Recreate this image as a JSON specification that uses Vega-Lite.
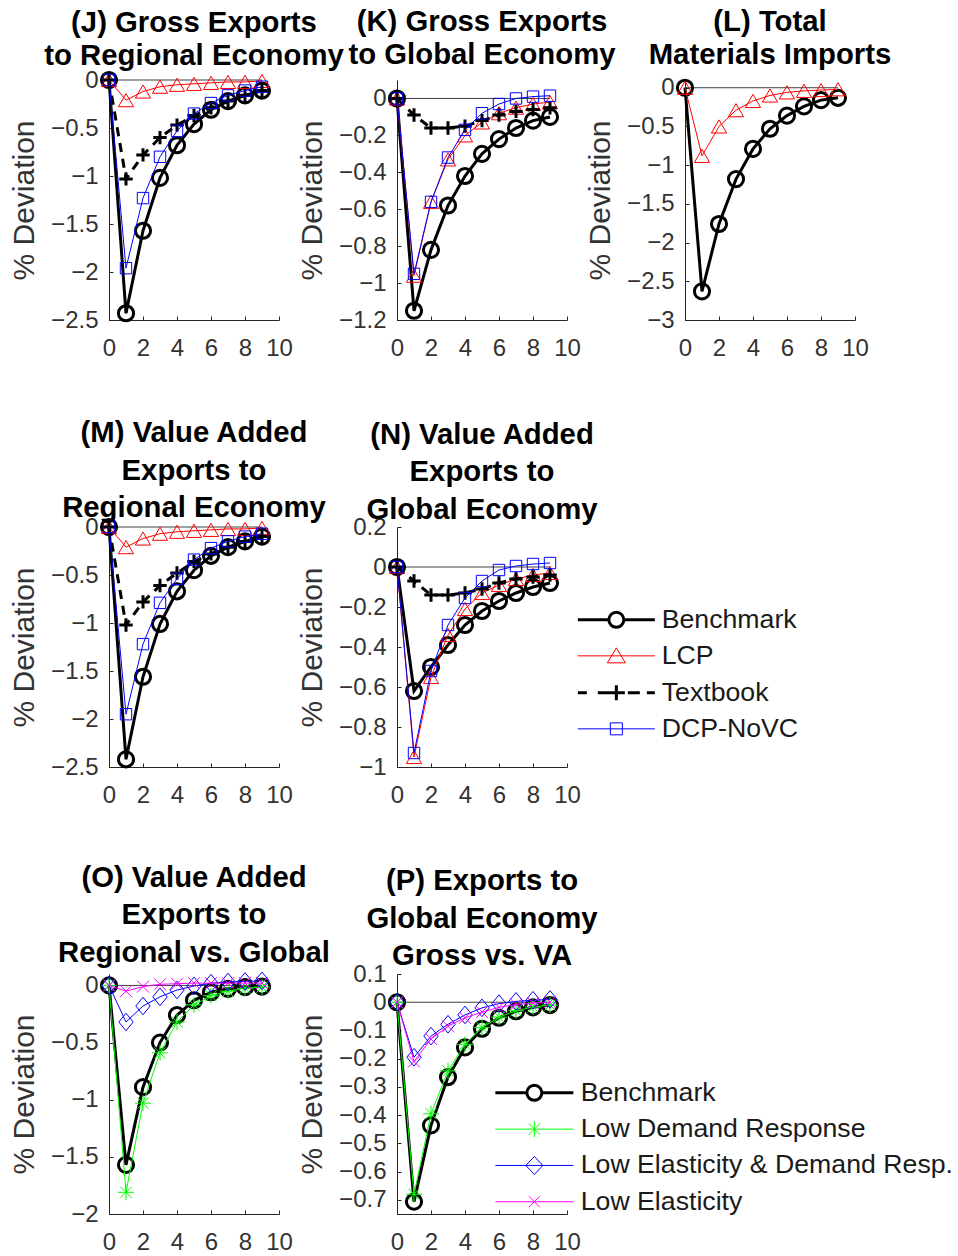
{
"$schema":"https://vega.github.io/schema/vega-lite/v6.json",
"padding":{"left":9,"top":7,"right":0,"bottom":0},
"datasets":{"d":[
{"panel":"J","series":"Benchmark","t":0,"value":0},{"panel":"J","series":"Benchmark","t":1,"value":-2.43},{"panel":"J","series":"Benchmark","t":2,"value":-1.57},{"panel":"J","series":"Benchmark","t":3,"value":-1.02},{"panel":"J","series":"Benchmark","t":4,"value":-0.68},{"panel":"J","series":"Benchmark","t":5,"value":-0.46},{"panel":"J","series":"Benchmark","t":6,"value":-0.31},{"panel":"J","series":"Benchmark","t":7,"value":-0.22},{"panel":"J","series":"Benchmark","t":8,"value":-0.16},{"panel":"J","series":"Benchmark","t":9,"value":-0.11},
{"panel":"J","series":"LCP","t":0,"value":0},{"panel":"J","series":"LCP","t":1,"value":-0.21},{"panel":"J","series":"LCP","t":2,"value":-0.12},{"panel":"J","series":"LCP","t":3,"value":-0.07},{"panel":"J","series":"LCP","t":4,"value":-0.05},{"panel":"J","series":"LCP","t":5,"value":-0.04},{"panel":"J","series":"LCP","t":6,"value":-0.03},{"panel":"J","series":"LCP","t":7,"value":-0.02},{"panel":"J","series":"LCP","t":8,"value":-0.02},{"panel":"J","series":"LCP","t":9,"value":-0.01},
{"panel":"J","series":"Textbook","t":0,"value":0},{"panel":"J","series":"Textbook","t":1,"value":-1.03},{"panel":"J","series":"Textbook","t":2,"value":-0.78},{"panel":"J","series":"Textbook","t":3,"value":-0.6},{"panel":"J","series":"Textbook","t":4,"value":-0.47},{"panel":"J","series":"Textbook","t":5,"value":-0.37},{"panel":"J","series":"Textbook","t":6,"value":-0.29},{"panel":"J","series":"Textbook","t":7,"value":-0.22},{"panel":"J","series":"Textbook","t":8,"value":-0.16},{"panel":"J","series":"Textbook","t":9,"value":-0.11},
{"panel":"J","series":"DCP-NoVC","t":0,"value":0},{"panel":"J","series":"DCP-NoVC","t":1,"value":-1.96},{"panel":"J","series":"DCP-NoVC","t":2,"value":-1.23},{"panel":"J","series":"DCP-NoVC","t":3,"value":-0.8},{"panel":"J","series":"DCP-NoVC","t":4,"value":-0.53},{"panel":"J","series":"DCP-NoVC","t":5,"value":-0.35},{"panel":"J","series":"DCP-NoVC","t":6,"value":-0.24},{"panel":"J","series":"DCP-NoVC","t":7,"value":-0.16},{"panel":"J","series":"DCP-NoVC","t":8,"value":-0.11},{"panel":"J","series":"DCP-NoVC","t":9,"value":-0.07},
{"panel":"K","series":"Benchmark","t":0,"value":0},{"panel":"K","series":"Benchmark","t":1,"value":-1.15},{"panel":"K","series":"Benchmark","t":2,"value":-0.82},{"panel":"K","series":"Benchmark","t":3,"value":-0.58},{"panel":"K","series":"Benchmark","t":4,"value":-0.42},{"panel":"K","series":"Benchmark","t":5,"value":-0.3},{"panel":"K","series":"Benchmark","t":6,"value":-0.22},{"panel":"K","series":"Benchmark","t":7,"value":-0.16},{"panel":"K","series":"Benchmark","t":8,"value":-0.12},{"panel":"K","series":"Benchmark","t":9,"value":-0.1},
{"panel":"K","series":"LCP","t":0,"value":0},{"panel":"K","series":"LCP","t":1,"value":-0.96},{"panel":"K","series":"LCP","t":2,"value":-0.56},{"panel":"K","series":"LCP","t":3,"value":-0.33},{"panel":"K","series":"LCP","t":4,"value":-0.2},{"panel":"K","series":"LCP","t":5,"value":-0.13},{"panel":"K","series":"LCP","t":6,"value":-0.08},{"panel":"K","series":"LCP","t":7,"value":-0.05},{"panel":"K","series":"LCP","t":8,"value":-0.03},{"panel":"K","series":"LCP","t":9,"value":-0.02},
{"panel":"K","series":"Textbook","t":0,"value":0},{"panel":"K","series":"Textbook","t":1,"value":-0.09},{"panel":"K","series":"Textbook","t":2,"value":-0.16},{"panel":"K","series":"Textbook","t":3,"value":-0.16},{"panel":"K","series":"Textbook","t":4,"value":-0.15},{"panel":"K","series":"Textbook","t":5,"value":-0.12},{"panel":"K","series":"Textbook","t":6,"value":-0.09},{"panel":"K","series":"Textbook","t":7,"value":-0.07},{"panel":"K","series":"Textbook","t":8,"value":-0.06},{"panel":"K","series":"Textbook","t":9,"value":-0.05},
{"panel":"K","series":"DCP-NoVC","t":0,"value":0},{"panel":"K","series":"DCP-NoVC","t":1,"value":-0.95},{"panel":"K","series":"DCP-NoVC","t":2,"value":-0.56},{"panel":"K","series":"DCP-NoVC","t":3,"value":-0.32},{"panel":"K","series":"DCP-NoVC","t":4,"value":-0.17},{"panel":"K","series":"DCP-NoVC","t":5,"value":-0.08},{"panel":"K","series":"DCP-NoVC","t":6,"value":-0.03},{"panel":"K","series":"DCP-NoVC","t":7,"value":0},{"panel":"K","series":"DCP-NoVC","t":8,"value":0.01},{"panel":"K","series":"DCP-NoVC","t":9,"value":0.015},
{"panel":"L","series":"Benchmark","t":0,"value":0},{"panel":"L","series":"Benchmark","t":1,"value":-2.63},{"panel":"L","series":"Benchmark","t":2,"value":-1.76},{"panel":"L","series":"Benchmark","t":3,"value":-1.18},{"panel":"L","series":"Benchmark","t":4,"value":-0.79},{"panel":"L","series":"Benchmark","t":5,"value":-0.53},{"panel":"L","series":"Benchmark","t":6,"value":-0.36},{"panel":"L","series":"Benchmark","t":7,"value":-0.24},{"panel":"L","series":"Benchmark","t":8,"value":-0.16},{"panel":"L","series":"Benchmark","t":9,"value":-0.13},
{"panel":"L","series":"LCP","t":0,"value":0},{"panel":"L","series":"LCP","t":1,"value":-0.88},{"panel":"L","series":"LCP","t":2,"value":-0.5},{"panel":"L","series":"LCP","t":3,"value":-0.29},{"panel":"L","series":"LCP","t":4,"value":-0.17},{"panel":"L","series":"LCP","t":5,"value":-0.1},{"panel":"L","series":"LCP","t":6,"value":-0.06},{"panel":"L","series":"LCP","t":7,"value":-0.04},{"panel":"L","series":"LCP","t":8,"value":-0.03},{"panel":"L","series":"LCP","t":9,"value":-0.02},
{"panel":"M","series":"Benchmark","t":0,"value":0},{"panel":"M","series":"Benchmark","t":1,"value":-2.42},{"panel":"M","series":"Benchmark","t":2,"value":-1.56},{"panel":"M","series":"Benchmark","t":3,"value":-1.01},{"panel":"M","series":"Benchmark","t":4,"value":-0.67},{"panel":"M","series":"Benchmark","t":5,"value":-0.45},{"panel":"M","series":"Benchmark","t":6,"value":-0.3},{"panel":"M","series":"Benchmark","t":7,"value":-0.21},{"panel":"M","series":"Benchmark","t":8,"value":-0.15},{"panel":"M","series":"Benchmark","t":9,"value":-0.1},
{"panel":"M","series":"LCP","t":0,"value":0},{"panel":"M","series":"LCP","t":1,"value":-0.21},{"panel":"M","series":"LCP","t":2,"value":-0.12},{"panel":"M","series":"LCP","t":3,"value":-0.07},{"panel":"M","series":"LCP","t":4,"value":-0.05},{"panel":"M","series":"LCP","t":5,"value":-0.04},{"panel":"M","series":"LCP","t":6,"value":-0.03},{"panel":"M","series":"LCP","t":7,"value":-0.02},{"panel":"M","series":"LCP","t":8,"value":-0.02},{"panel":"M","series":"LCP","t":9,"value":-0.01},
{"panel":"M","series":"Textbook","t":0,"value":0},{"panel":"M","series":"Textbook","t":1,"value":-1.02},{"panel":"M","series":"Textbook","t":2,"value":-0.78},{"panel":"M","series":"Textbook","t":3,"value":-0.61},{"panel":"M","series":"Textbook","t":4,"value":-0.48},{"panel":"M","series":"Textbook","t":5,"value":-0.36},{"panel":"M","series":"Textbook","t":6,"value":-0.28},{"panel":"M","series":"Textbook","t":7,"value":-0.21},{"panel":"M","series":"Textbook","t":8,"value":-0.15},{"panel":"M","series":"Textbook","t":9,"value":-0.1},
{"panel":"M","series":"DCP-NoVC","t":0,"value":0},{"panel":"M","series":"DCP-NoVC","t":1,"value":-1.95},{"panel":"M","series":"DCP-NoVC","t":2,"value":-1.22},{"panel":"M","series":"DCP-NoVC","t":3,"value":-0.79},{"panel":"M","series":"DCP-NoVC","t":4,"value":-0.54},{"panel":"M","series":"DCP-NoVC","t":5,"value":-0.34},{"panel":"M","series":"DCP-NoVC","t":6,"value":-0.22},{"panel":"M","series":"DCP-NoVC","t":7,"value":-0.15},{"panel":"M","series":"DCP-NoVC","t":8,"value":-0.1},{"panel":"M","series":"DCP-NoVC","t":9,"value":-0.07},
{"panel":"N","series":"Benchmark","t":0,"value":0},{"panel":"N","series":"Benchmark","t":1,"value":-0.62},{"panel":"N","series":"Benchmark","t":2,"value":-0.5},{"panel":"N","series":"Benchmark","t":3,"value":-0.39},{"panel":"N","series":"Benchmark","t":4,"value":-0.29},{"panel":"N","series":"Benchmark","t":5,"value":-0.22},{"panel":"N","series":"Benchmark","t":6,"value":-0.17},{"panel":"N","series":"Benchmark","t":7,"value":-0.13},{"panel":"N","series":"Benchmark","t":8,"value":-0.1},{"panel":"N","series":"Benchmark","t":9,"value":-0.08},
{"panel":"N","series":"LCP","t":0,"value":0},{"panel":"N","series":"LCP","t":1,"value":-0.95},{"panel":"N","series":"LCP","t":2,"value":-0.55},{"panel":"N","series":"LCP","t":3,"value":-0.34},{"panel":"N","series":"LCP","t":4,"value":-0.21},{"panel":"N","series":"LCP","t":5,"value":-0.13},{"panel":"N","series":"LCP","t":6,"value":-0.09},{"panel":"N","series":"LCP","t":7,"value":-0.06},{"panel":"N","series":"LCP","t":8,"value":-0.04},{"panel":"N","series":"LCP","t":9,"value":-0.03},
{"panel":"N","series":"Textbook","t":0,"value":0},{"panel":"N","series":"Textbook","t":1,"value":-0.07},{"panel":"N","series":"Textbook","t":2,"value":-0.14},{"panel":"N","series":"Textbook","t":3,"value":-0.14},{"panel":"N","series":"Textbook","t":4,"value":-0.13},{"panel":"N","series":"Textbook","t":5,"value":-0.11},{"panel":"N","series":"Textbook","t":6,"value":-0.08},{"panel":"N","series":"Textbook","t":7,"value":-0.06},{"panel":"N","series":"Textbook","t":8,"value":-0.05},{"panel":"N","series":"Textbook","t":9,"value":-0.04},
{"panel":"N","series":"DCP-NoVC","t":0,"value":0},{"panel":"N","series":"DCP-NoVC","t":1,"value":-0.93},{"panel":"N","series":"DCP-NoVC","t":2,"value":-0.52},{"panel":"N","series":"DCP-NoVC","t":3,"value":-0.29},{"panel":"N","series":"DCP-NoVC","t":4,"value":-0.155},{"panel":"N","series":"DCP-NoVC","t":5,"value":-0.07},{"panel":"N","series":"DCP-NoVC","t":6,"value":-0.015},{"panel":"N","series":"DCP-NoVC","t":7,"value":0.005},{"panel":"N","series":"DCP-NoVC","t":8,"value":0.015},{"panel":"N","series":"DCP-NoVC","t":9,"value":0.02},
{"panel":"O","series":"Benchmark","t":0,"value":0},{"panel":"O","series":"Benchmark","t":1,"value":-1.57},{"panel":"O","series":"Benchmark","t":2,"value":-0.89},{"panel":"O","series":"Benchmark","t":3,"value":-0.5},{"panel":"O","series":"Benchmark","t":4,"value":-0.26},{"panel":"O","series":"Benchmark","t":5,"value":-0.13},{"panel":"O","series":"Benchmark","t":6,"value":-0.06},{"panel":"O","series":"Benchmark","t":7,"value":-0.03},{"panel":"O","series":"Benchmark","t":8,"value":-0.015},{"panel":"O","series":"Benchmark","t":9,"value":-0.01},
{"panel":"O","series":"Low Demand Response","t":0,"value":0},{"panel":"O","series":"Low Demand Response","t":1,"value":-1.81},{"panel":"O","series":"Low Demand Response","t":2,"value":-1.03},{"panel":"O","series":"Low Demand Response","t":3,"value":-0.59},{"panel":"O","series":"Low Demand Response","t":4,"value":-0.32},{"panel":"O","series":"Low Demand Response","t":5,"value":-0.17},{"panel":"O","series":"Low Demand Response","t":6,"value":-0.09},{"panel":"O","series":"Low Demand Response","t":7,"value":-0.05},{"panel":"O","series":"Low Demand Response","t":8,"value":-0.025},{"panel":"O","series":"Low Demand Response","t":9,"value":-0.015},
{"panel":"O","series":"Low Elasticity & Demand Resp.","t":0,"value":0},{"panel":"O","series":"Low Elasticity & Demand Resp.","t":1,"value":-0.32},{"panel":"O","series":"Low Elasticity & Demand Resp.","t":2,"value":-0.18},{"panel":"O","series":"Low Elasticity & Demand Resp.","t":3,"value":-0.1},{"panel":"O","series":"Low Elasticity & Demand Resp.","t":4,"value":-0.04},{"panel":"O","series":"Low Elasticity & Demand Resp.","t":5,"value":-0.005},{"panel":"O","series":"Low Elasticity & Demand Resp.","t":6,"value":0.02},{"panel":"O","series":"Low Elasticity & Demand Resp.","t":7,"value":0.03},{"panel":"O","series":"Low Elasticity & Demand Resp.","t":8,"value":0.035},{"panel":"O","series":"Low Elasticity & Demand Resp.","t":9,"value":0.04},
{"panel":"O","series":"Low Elasticity","t":0,"value":0},{"panel":"O","series":"Low Elasticity","t":1,"value":-0.05},{"panel":"O","series":"Low Elasticity","t":2,"value":-0.01},{"panel":"O","series":"Low Elasticity","t":3,"value":0.01},{"panel":"O","series":"Low Elasticity","t":4,"value":0.015},{"panel":"O","series":"Low Elasticity","t":5,"value":0.02},{"panel":"O","series":"Low Elasticity","t":6,"value":0.02},{"panel":"O","series":"Low Elasticity","t":7,"value":0.02},{"panel":"O","series":"Low Elasticity","t":8,"value":0.02},{"panel":"O","series":"Low Elasticity","t":9,"value":0.02},
{"panel":"P","series":"Benchmark","t":0,"value":0},{"panel":"P","series":"Benchmark","t":1,"value":-0.706},{"panel":"P","series":"Benchmark","t":2,"value":-0.436},{"panel":"P","series":"Benchmark","t":3,"value":-0.265},{"panel":"P","series":"Benchmark","t":4,"value":-0.16},{"panel":"P","series":"Benchmark","t":5,"value":-0.094},{"panel":"P","series":"Benchmark","t":6,"value":-0.055},{"panel":"P","series":"Benchmark","t":7,"value":-0.032},{"panel":"P","series":"Benchmark","t":8,"value":-0.018},{"panel":"P","series":"Benchmark","t":9,"value":-0.01},
{"panel":"P","series":"Low Demand Response","t":0,"value":0},{"panel":"P","series":"Low Demand Response","t":1,"value":-0.68},{"panel":"P","series":"Low Demand Response","t":2,"value":-0.395},{"panel":"P","series":"Low Demand Response","t":3,"value":-0.243},{"panel":"P","series":"Low Demand Response","t":4,"value":-0.149},{"panel":"P","series":"Low Demand Response","t":5,"value":-0.09},{"panel":"P","series":"Low Demand Response","t":6,"value":-0.053},{"panel":"P","series":"Low Demand Response","t":7,"value":-0.03},{"panel":"P","series":"Low Demand Response","t":8,"value":-0.017},{"panel":"P","series":"Low Demand Response","t":9,"value":-0.01},
{"panel":"P","series":"Low Elasticity & Demand Resp.","t":0,"value":0},{"panel":"P","series":"Low Elasticity & Demand Resp.","t":1,"value":-0.195},{"panel":"P","series":"Low Elasticity & Demand Resp.","t":2,"value":-0.12},{"panel":"P","series":"Low Elasticity & Demand Resp.","t":3,"value":-0.078},{"panel":"P","series":"Low Elasticity & Demand Resp.","t":4,"value":-0.045},{"panel":"P","series":"Low Elasticity & Demand Resp.","t":5,"value":-0.02},{"panel":"P","series":"Low Elasticity & Demand Resp.","t":6,"value":-0.005},{"panel":"P","series":"Low Elasticity & Demand Resp.","t":7,"value":0.003},{"panel":"P","series":"Low Elasticity & Demand Resp.","t":8,"value":0.007},{"panel":"P","series":"Low Elasticity & Demand Resp.","t":9,"value":0.01},
{"panel":"P","series":"Low Elasticity","t":0,"value":0},{"panel":"P","series":"Low Elasticity","t":1,"value":-0.21},{"panel":"P","series":"Low Elasticity","t":2,"value":-0.13},{"panel":"P","series":"Low Elasticity","t":3,"value":-0.085},{"panel":"P","series":"Low Elasticity","t":4,"value":-0.055},{"panel":"P","series":"Low Elasticity","t":5,"value":-0.035},{"panel":"P","series":"Low Elasticity","t":6,"value":-0.018},{"panel":"P","series":"Low Elasticity","t":7,"value":-0.008},{"panel":"P","series":"Low Elasticity","t":8,"value":-0.003},{"panel":"P","series":"Low Elasticity","t":9,"value":0}
]},
"columns":3,
"bounds":"flush",
"spacing":{"row":207,"column":118},
"resolve":{"scale":{"color":"independent"},"legend":{"color":"independent"}},
"concat":[
 {"width":170,"height":240,"title":{"text":["(J) Gross Exports","to Regional Economy"],"offset":-5,"lineHeight":33},
  "data":{"name":"d"},"transform":[{"filter":"datum.panel==='J'"}],
  "encoding":{"x":{"field":"t","type":"quantitative","scale":{"domain":[0,10],"nice":false},"axis":{"values":[0,2,4,6,8,10],"format":"~f","title":null}},
   "y":{"field":"value","type":"quantitative","scale":{"domain":[-2.5,0],"nice":false},"axis":{"values":[0,-0.5,-1,-1.5,-2,-2.5],"format":"~f","title":"% Deviation"}}},
  "layer":[
   {"transform":[{"filter":"datum.t===0 && datum.series==='Benchmark'"}],"mark":{"type":"rule","color":"#404040","strokeWidth":1},"encoding":{"x2":{"datum":9}}},
   {"transform":[{"filter":"datum.series==='Benchmark'"}],"mark":{"type":"line","color":"#000000","strokeWidth":3,"point":{"shape":"circle","size":230,"filled":false,"strokeWidth":3,"color":"#000000"}}},
   {"transform":[{"filter":"datum.series==='LCP'"}],"mark":{"type":"line","color":"#ff0000","strokeWidth":1,"point":{"shape":"triangle-up","size":230,"filled":false,"strokeWidth":1,"color":"#ff0000"}}},
   {"transform":[{"filter":"datum.series==='Textbook'"}],"mark":{"type":"line","color":"#000000","strokeWidth":3,"strokeDash":[9,7],"point":{"shape":"M-1,0H1M0,-1V1","size":180,"filled":false,"strokeWidth":3,"color":"#000000"}}},
   {"transform":[{"filter":"datum.series==='DCP-NoVC'"}],"mark":{"type":"line","color":"#0000ff","strokeWidth":1,"point":{"shape":"square","size":130,"filled":false,"strokeWidth":1,"color":"#0000ff"}}}
  ]},
 {"width":170,"height":240,"title":{"text":["(K) Gross Exports","to Global Economy"],"offset":10,"lineHeight":33},
  "data":{"name":"d"},"transform":[{"filter":"datum.panel==='K'"}],
  "encoding":{"x":{"field":"t","type":"quantitative","scale":{"domain":[0,10],"nice":false},"axis":{"values":[0,2,4,6,8,10],"format":"~f","title":null}},
   "y":{"field":"value","type":"quantitative","scale":{"domain":[-1.2,0.1],"nice":false},"axis":{"values":[0,-0.2,-0.4,-0.6,-0.8,-1,-1.2],"format":"~f","title":"% Deviation"}}},
  "layer":[
   {"transform":[{"filter":"datum.t===0 && datum.series==='Benchmark'"}],"mark":{"type":"rule","color":"#404040","strokeWidth":1},"encoding":{"x2":{"datum":9}}},
   {"transform":[{"filter":"datum.series==='Benchmark'"}],"mark":{"type":"line","color":"#000000","strokeWidth":3,"point":{"shape":"circle","size":230,"filled":false,"strokeWidth":3,"color":"#000000"}}},
   {"transform":[{"filter":"datum.series==='LCP'"}],"mark":{"type":"line","color":"#ff0000","strokeWidth":1,"point":{"shape":"triangle-up","size":230,"filled":false,"strokeWidth":1,"color":"#ff0000"}}},
   {"transform":[{"filter":"datum.series==='Textbook'"}],"mark":{"type":"line","color":"#000000","strokeWidth":3,"strokeDash":[9,7],"point":{"shape":"M-1,0H1M0,-1V1","size":180,"filled":false,"strokeWidth":3,"color":"#000000"}}},
   {"transform":[{"filter":"datum.series==='DCP-NoVC'"}],"mark":{"type":"line","color":"#0000ff","strokeWidth":1,"point":{"shape":"square","size":130,"filled":false,"strokeWidth":1,"color":"#0000ff"}}}
  ]},
 {"width":170,"height":240,"title":{"text":["(L) Total","Materials Imports"],"offset":4,"lineHeight":33},
  "data":{"name":"d"},"transform":[{"filter":"datum.panel==='L'"}],
  "encoding":{"x":{"field":"t","type":"quantitative","scale":{"domain":[0,10],"nice":false},"axis":{"values":[0,2,4,6,8,10],"format":"~f","title":null}},
   "y":{"field":"value","type":"quantitative","scale":{"domain":[-3,0.1],"nice":false},"axis":{"values":[0,-0.5,-1,-1.5,-2,-2.5,-3],"format":"~f","title":"% Deviation"}}},
  "layer":[
   {"transform":[{"filter":"datum.t===0 && datum.series==='Benchmark'"}],"mark":{"type":"rule","color":"#404040","strokeWidth":1},"encoding":{"x2":{"datum":9}}},
   {"transform":[{"filter":"datum.series==='Benchmark'"}],"mark":{"type":"line","color":"#000000","strokeWidth":3,"point":{"shape":"circle","size":230,"filled":false,"strokeWidth":3,"color":"#000000"}}},
   {"transform":[{"filter":"datum.series==='LCP'"}],"mark":{"type":"line","color":"#ff0000","strokeWidth":1,"point":{"shape":"triangle-up","size":230,"filled":false,"strokeWidth":1,"color":"#ff0000"}}}
  ]},
 {"width":170,"height":240,"title":{"text":["(M) Value Added","Exports to","Regional Economy"],"offset":-10,"lineHeight":37.5},
  "data":{"name":"d"},"transform":[{"filter":"datum.panel==='M'"}],
  "encoding":{"x":{"field":"t","type":"quantitative","scale":{"domain":[0,10],"nice":false},"axis":{"values":[0,2,4,6,8,10],"format":"~f","title":null}},
   "y":{"field":"value","type":"quantitative","scale":{"domain":[-2.5,0],"nice":false},"axis":{"values":[0,-0.5,-1,-1.5,-2,-2.5],"format":"~f","title":"% Deviation"}}},
  "layer":[
   {"transform":[{"filter":"datum.t===0 && datum.series==='Benchmark'"}],"mark":{"type":"rule","color":"#404040","strokeWidth":1},"encoding":{"x2":{"datum":9}}},
   {"transform":[{"filter":"datum.series==='Benchmark'"}],"mark":{"type":"line","color":"#000000","strokeWidth":3,"point":{"shape":"circle","size":230,"filled":false,"strokeWidth":3,"color":"#000000"}}},
   {"transform":[{"filter":"datum.series==='LCP'"}],"mark":{"type":"line","color":"#ff0000","strokeWidth":1,"point":{"shape":"triangle-up","size":230,"filled":false,"strokeWidth":1,"color":"#ff0000"}}},
   {"transform":[{"filter":"datum.series==='Textbook'"}],"mark":{"type":"line","color":"#000000","strokeWidth":3,"strokeDash":[9,7],"point":{"shape":"M-1,0H1M0,-1V1","size":180,"filled":false,"strokeWidth":3,"color":"#000000"}}},
   {"transform":[{"filter":"datum.series==='DCP-NoVC'"}],"mark":{"type":"line","color":"#0000ff","strokeWidth":1,"point":{"shape":"square","size":130,"filled":false,"strokeWidth":1,"color":"#0000ff"}}}
  ]},
 {"width":170,"height":240,"title":{"text":["(N) Value Added","Exports to","Global Economy"],"offset":-10,"lineHeight":37.5},
  "data":{"name":"d"},"transform":[{"filter":"datum.panel==='N'"}],
  "encoding":{"x":{"field":"t","type":"quantitative","scale":{"domain":[0,10],"nice":false},"axis":{"values":[0,2,4,6,8,10],"format":"~f","title":null}},
   "y":{"field":"value","type":"quantitative","scale":{"domain":[-1,0.2],"nice":false},"axis":{"values":[0.2,0,-0.2,-0.4,-0.6,-0.8,-1],"format":"~f","title":"% Deviation"}}},
  "layer":[
   {"transform":[{"filter":"datum.t===0 && datum.series==='Benchmark'"}],"mark":{"type":"rule","color":"#404040","strokeWidth":1},"encoding":{"x2":{"datum":9}}},
   {"transform":[{"filter":"datum.series==='Benchmark'"}],"mark":{"type":"line","color":"#000000","strokeWidth":3,"point":{"shape":"circle","size":230,"filled":false,"strokeWidth":3,"color":"#000000"}}},
   {"transform":[{"filter":"datum.series==='LCP'"}],"mark":{"type":"line","color":"#ff0000","strokeWidth":1,"point":{"shape":"triangle-up","size":230,"filled":false,"strokeWidth":1,"color":"#ff0000"}}},
   {"transform":[{"filter":"datum.series==='Textbook'"}],"mark":{"type":"line","color":"#000000","strokeWidth":3,"strokeDash":[9,7],"point":{"shape":"M-1,0H1M0,-1V1","size":180,"filled":false,"strokeWidth":3,"color":"#000000"}}},
   {"transform":[{"filter":"datum.series==='DCP-NoVC'"}],"mark":{"type":"line","color":"#0000ff","strokeWidth":1,"point":{"shape":"square","size":130,"filled":false,"strokeWidth":1,"color":"#0000ff"}}}
  ]},
 {"width":170,"height":240,
  "data":{"name":"d"},"transform":[{"filter":"datum.panel==='N' && datum.t===0"}],
  "mark":{"type":"point","opacity":0,"filled":false},
  "encoding":{"color":{"field":"series","type":"nominal","scale":{"domain":["Benchmark","LCP","Textbook","DCP-NoVC"],"range":["#000000","#ff0000","#000000","#0000ff"]},
     "legend":{"orient":"none","legendX":-82,"legendY":79.5,"title":null,"symbolSize":400,"symbolOpacity":1,"labelFont":"Liberation Sans","labelFontSize":26.7,"labelColor":"#1a1a1a","labelOffset":32,"labelLimit":600,"rowPadding":8,"padding":0,
      "encoding":{"symbols":{
       "shape":{"value":{"expr":"datum.value==='Benchmark' ? 'M-3.85,0H-0.75M0.75,0H3.85M0.75,0A0.75,0.75,0,1,0,-0.75,0A0.75,0.75,0,1,0,0.75,0' : datum.value==='LCP' ? 'M-3.85,0H3.85M0,-0.8L0.9,0.7L-0.9,0.7Z' : datum.value==='Textbook' ? 'M-3.85,0H-2.95M-1.85,0H0.85M1.15,0H2.35M3.05,0H3.85M0,-0.75V0.75' : 'M-3.85,0H3.85M-0.6,-0.6H0.6V0.6H-0.6Z'"}},
       "strokeWidth":{"value":{"expr":"datum.value==='Benchmark' || datum.value==='Textbook' ? 3 : 1"}}}}}}}},
 {"width":170,"height":240,"title":{"text":["(O) Value Added","Exports to","Regional vs. Global"],"offset":2,"lineHeight":37.5},
  "data":{"name":"d"},"transform":[{"filter":"datum.panel==='O'"}],
  "encoding":{"x":{"field":"t","type":"quantitative","scale":{"domain":[0,10],"nice":false},"axis":{"values":[0,2,4,6,8,10],"format":"~f","title":null}},
   "y":{"field":"value","type":"quantitative","scale":{"domain":[-2,0.1],"nice":false},"axis":{"values":[0,-0.5,-1,-1.5,-2],"format":"~f","title":"% Deviation"}}},
  "layer":[
   {"transform":[{"filter":"datum.t===0 && datum.series==='Benchmark'"}],"mark":{"type":"rule","color":"#404040","strokeWidth":1},"encoding":{"x2":{"datum":9}}},
   {"transform":[{"filter":"datum.series==='Benchmark'"}],"mark":{"type":"line","color":"#000000","strokeWidth":3,"point":{"shape":"circle","size":230,"filled":false,"strokeWidth":3,"color":"#000000"}}},
   {"transform":[{"filter":"datum.series==='Low Demand Response'"}],"mark":{"type":"line","color":"#00ff00","strokeWidth":1,"point":{"shape":"M-1,0H1M0,-1V1M-0.7,-0.7L0.7,0.7M-0.7,0.7L0.7,-0.7","size":256,"filled":false,"strokeWidth":1,"color":"#00ff00"}}},
   {"transform":[{"filter":"datum.series==='Low Elasticity & Demand Resp.'"}],"mark":{"type":"line","color":"#0000ff","strokeWidth":1,"point":{"shape":"M0,-1.1L0.9,0L0,1.1L-0.9,0Z","size":256,"filled":false,"strokeWidth":1,"color":"#0000ff"}}},
   {"transform":[{"filter":"datum.series==='Low Elasticity'"}],"mark":{"type":"line","color":"#ff00ff","strokeWidth":1,"point":{"shape":"M-1,-1L1,1M-1,1L1,-1","size":144,"filled":false,"strokeWidth":1,"color":"#ff00ff"}}}
  ]},
 {"width":170,"height":240,"title":{"text":["(P) Exports to","Global Economy","Gross vs. VA"],"offset":-9.5,"lineHeight":37.5},
  "data":{"name":"d"},"transform":[{"filter":"datum.panel==='P'"}],
  "encoding":{"x":{"field":"t","type":"quantitative","scale":{"domain":[0,10],"nice":false},"axis":{"values":[0,2,4,6,8,10],"format":"~f","title":null}},
   "y":{"field":"value","type":"quantitative","scale":{"domain":[-0.75,0.1],"nice":false},"axis":{"values":[0.1,0,-0.1,-0.2,-0.3,-0.4,-0.5,-0.6,-0.7],"format":"~f","title":"% Deviation"}}},
  "layer":[
   {"transform":[{"filter":"datum.t===0 && datum.series==='Benchmark'"}],"mark":{"type":"rule","color":"#404040","strokeWidth":1},"encoding":{"x2":{"datum":9}}},
   {"transform":[{"filter":"datum.series==='Benchmark'"}],"mark":{"type":"line","color":"#000000","strokeWidth":3,"point":{"shape":"circle","size":230,"filled":false,"strokeWidth":3,"color":"#000000"}}},
   {"transform":[{"filter":"datum.series==='Low Demand Response'"}],"mark":{"type":"line","color":"#00ff00","strokeWidth":1,"point":{"shape":"M-1,0H1M0,-1V1M-0.7,-0.7L0.7,0.7M-0.7,0.7L0.7,-0.7","size":256,"filled":false,"strokeWidth":1,"color":"#00ff00"}}},
   {"transform":[{"filter":"datum.series==='Low Elasticity & Demand Resp.'"}],"mark":{"type":"line","color":"#0000ff","strokeWidth":1,"point":{"shape":"M0,-1.1L0.9,0L0,1.1L-0.9,0Z","size":256,"filled":false,"strokeWidth":1,"color":"#0000ff"}}},
   {"transform":[{"filter":"datum.series==='Low Elasticity'"}],"mark":{"type":"line","color":"#ff00ff","strokeWidth":1,"point":{"shape":"M-1,-1L1,1M-1,1L1,-1","size":144,"filled":false,"strokeWidth":1,"color":"#ff00ff"}}},
   {"transform":[{"filter":"datum.t===0"}],"mark":{"type":"point","opacity":0,"filled":false},
    "encoding":{"color":{"field":"series","type":"nominal","scale":{"domain":["Benchmark","Low Demand Response","Low Elasticity & Demand Resp.","Low Elasticity"],"range":["#000000","#00ff00","#0000ff","#ff00ff"]},
     "legend":{"orient":"none","legendX":124,"legendY":105.5,"title":null,"symbolSize":400,"symbolOpacity":1,"labelFont":"Liberation Sans","labelFontSize":26.7,"labelColor":"#1a1a1a","labelOffset":33,"labelLimit":600,"rowPadding":8.3,"padding":0,
      "encoding":{"symbols":{
       "shape":{"value":{"expr":"datum.value==='Benchmark' ? 'M-3.9,0H-0.75M0.75,0H3.9M0.75,0A0.75,0.75,0,1,0,-0.75,0A0.75,0.75,0,1,0,0.75,0' : datum.value==='Low Demand Response' ? 'M-3.9,0H3.9M0,-0.8V0.8M-0.57,-0.57L0.57,0.57M-0.57,0.57L0.57,-0.57' : datum.value==='Low Elasticity & Demand Resp.' ? 'M-3.9,0H3.9M0,-0.9L0.85,0L0,0.9L-0.85,0Z' : 'M-3.9,0H3.9M-0.55,-0.55L0.55,0.55M-0.55,0.55L0.55,-0.55'"}},
       "strokeWidth":{"value":{"expr":"datum.value==='Benchmark' ? 3 : 1"}}}}}}}}
  ]}
],
"config":{
 "view":{"stroke":null},
 "font":"Liberation Sans",
 "axis":{"grid":false,"domainColor":"#262626","domainWidth":1,"tickColor":"#262626","tickSize":-4,"tickWidth":1,"labelFont":"Liberation Sans","labelFontSize":24,"labelColor":"#333333","labelOverlap":false,"labelFlush":false,"titleFont":"Liberation Sans","titleFontSize":30,"titleFontWeight":"normal","titleColor":"#333333"},
 "axisX":{"labelPadding":20},
 "axisY":{"labelPadding":15,"titlePadding":11},
 "title":{"font":"Liberation Sans","fontSize":29.3,"fontWeight":"bold","color":"#000000","anchor":"middle","frame":"group","baseline":"bottom"}
}
}
